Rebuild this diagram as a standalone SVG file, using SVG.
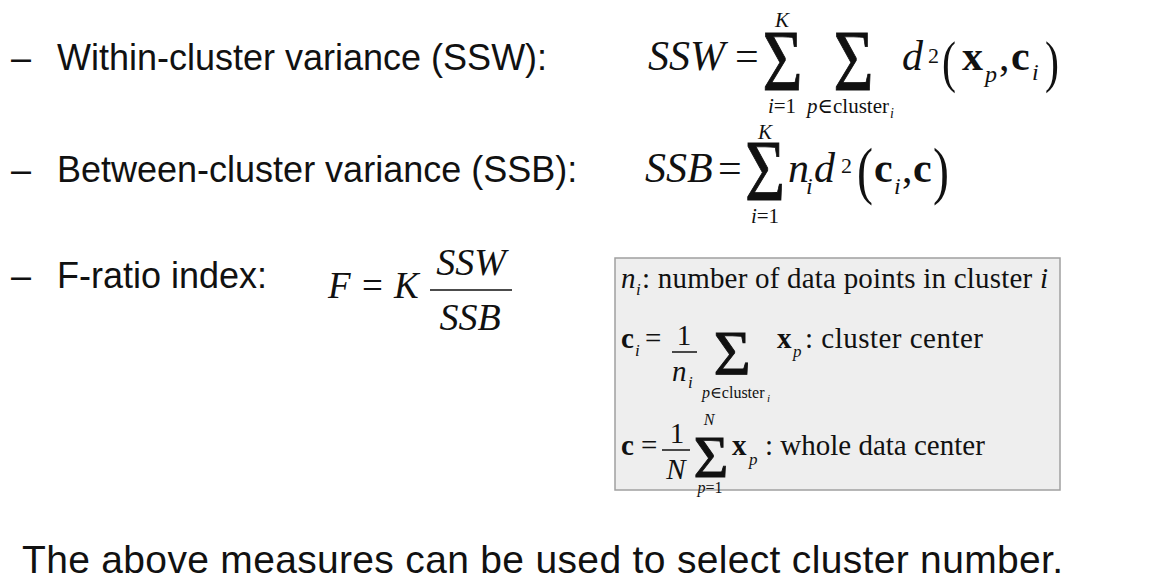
<svg xmlns="http://www.w3.org/2000/svg" width="1172" height="587" viewBox="0 0 1172 587">
<style>
text{fill:#111}
.s{font-family:"Liberation Sans",Arial,sans-serif;font-size:36px}
.m{font-family:"Liberation Serif","DejaVu Serif",serif}
.i{font-style:italic}
.b{font-weight:bold}
.L{font-size:42px}
.sub{font-size:24px}
.lim{font-size:21px}
.t{font-size:29px}
.ts{font-size:17px}
.sig{stroke:#111;stroke-width:0.9}
.bar{stroke:#111;stroke-width:1.5}
</style>
<rect width="1172" height="587" fill="#ffffff"/>
<g id="bullet-ssw">
<text class="s" x="11" y="70">–</text>
<text class="s" x="57" y="70">Within-cluster variance (SSW):</text>
</g>
<g id="bullet-ssb">
<text class="s" x="11" y="182">–</text>
<text class="s" x="57" y="182">Between-cluster variance (SSB):</text>
</g>
<g id="bullet-f">
<text class="s" x="11" y="288">–</text>
<text class="s" x="57" y="288">F-ratio index:</text>
</g>
<g id="formula-ssw">
<text class="m i L" x="648" y="70">SSW</text>
<text class="m L" x="735" y="70">=</text>
<text class="m sig" font-size="86" text-anchor="middle" transform="translate(782.5,90) scale(0.8,1)">Σ</text>
<text class="m i lim" x="782" y="27" text-anchor="middle">K</text>
<text class="m lim" x="782" y="113" text-anchor="middle"><tspan class="i">i</tspan>=1</text>
<text class="m sig" font-size="86" text-anchor="middle" transform="translate(853.5,90) scale(0.8,1)">Σ</text>
<text class="m lim" x="807" y="113"><tspan class="i">p</tspan>∈cluster</text>
<text class="m i" font-size="14" x="890" y="118">i</text>
<text class="m i L" x="902" y="70">d</text>
<text class="m" font-size="22" x="928" y="63">2</text>
<text class="m" font-size="56" transform="translate(942,81) scale(0.75,1)">(</text>
<text class="m b L" x="962" y="70">x</text>
<text class="m i sub" x="985" y="82">p</text>
<text class="m L" x="999" y="70">,</text>
<text class="m b L" x="1011" y="70">c</text>
<text class="m i sub" x="1032" y="80">i</text>
<text class="m" font-size="56" transform="translate(1045,81) scale(0.75,1)">)</text>
</g>
<g id="formula-ssb">
<text class="m i L" x="645" y="182">SSB</text>
<text class="m L" x="718" y="182">=</text>
<text class="m sig" font-size="86" text-anchor="middle" transform="translate(765,200) scale(0.8,1)">Σ</text>
<text class="m i lim" x="765" y="139" text-anchor="middle">K</text>
<text class="m lim" x="765" y="223" text-anchor="middle"><tspan class="i">i</tspan>=1</text>
<text class="m i L" x="788" y="182">n</text>
<text class="m i sub" x="806" y="194">i</text>
<text class="m i L" x="814" y="182">d</text>
<text class="m" font-size="22" x="841" y="173">2</text>
<text class="m" font-size="64" transform="translate(857,192) scale(0.75,1)">(</text>
<text class="m b L" x="874" y="182">c</text>
<text class="m i sub" x="894" y="194">i</text>
<text class="m L" x="902" y="182">,</text>
<text class="m b L" x="913" y="182">c</text>
<text class="m" font-size="64" transform="translate(933,192) scale(0.75,1)">)</text>
</g>
<g id="formula-f">
<text class="m i" font-size="37" x="328" y="298">F</text>
<text class="m" font-size="37" x="362" y="298">=</text>
<text class="m i" font-size="37" x="394" y="298">K</text>
<line class="bar" x1="430" y1="290" x2="512" y2="290"/>
<text class="m i" font-size="38" x="471" y="275" text-anchor="middle">SSW</text>
<text class="m i" font-size="38" x="470" y="330" text-anchor="middle">SSB</text>
</g>
<g id="legend-box">
<rect x="615" y="258" width="445" height="232" fill="#eeeeee" stroke="#a0a0a0" stroke-width="1.5"/>
<text class="m i t" x="621" y="288">n</text>
<text class="m i ts" x="636" y="295">i</text>
<text class="m t" x="642" y="288" textLength="406">: number of data points in cluster <tspan class="i">i</tspan></text>
<text class="m b t" x="621" y="348">c</text>
<text class="m i ts" x="635" y="356">i</text>
<text class="m t" x="645" y="348">=</text>
<text class="m t" x="684" y="345" text-anchor="middle">1</text>
<line class="bar" x1="672" y1="352" x2="697" y2="352"/>
<text class="m i t" x="672" y="381">n</text>
<text class="m i ts" x="688" y="388">i</text>
<text class="m sig" font-size="64" text-anchor="middle" x="732" y="375" stroke-width="0.6">Σ</text>
<text class="m" font-size="16" x="702" y="398"><tspan class="i">p</tspan>∈cluster</text>
<text class="m i" font-size="11" x="767" y="402">i</text>
<text class="m b t" x="777" y="348">x</text>
<text class="m i ts" x="793" y="357">p</text>
<text class="m t" x="805" y="348" textLength="178">: cluster center</text>
<text class="m b t" x="621" y="455">c</text>
<text class="m t" x="641" y="455">=</text>
<text class="m t" x="677" y="443" text-anchor="middle">1</text>
<line class="bar" x1="662" y1="450" x2="690" y2="450"/>
<text class="m i t" x="676" y="479" text-anchor="middle">N</text>
<text class="m sig" font-size="60" text-anchor="middle" x="711" y="477" stroke-width="0.6">Σ</text>
<text class="m i" font-size="16" x="709" y="425" text-anchor="middle">N</text>
<text class="m" font-size="16" x="710" y="493" text-anchor="middle"><tspan class="i">p</tspan>=1</text>
<text class="m b t" x="732" y="455">x</text>
<text class="m i ts" x="749" y="465">p</text>
<text class="m t" x="765" y="455">: whole data center</text>
</g>
<g id="conclusion">
<text class="s" x="22" y="573" style="font-size:39px" textLength="1041">The above measures can be used to select cluster number.</text>
</g>
<g id="connectors"/>
</svg>
